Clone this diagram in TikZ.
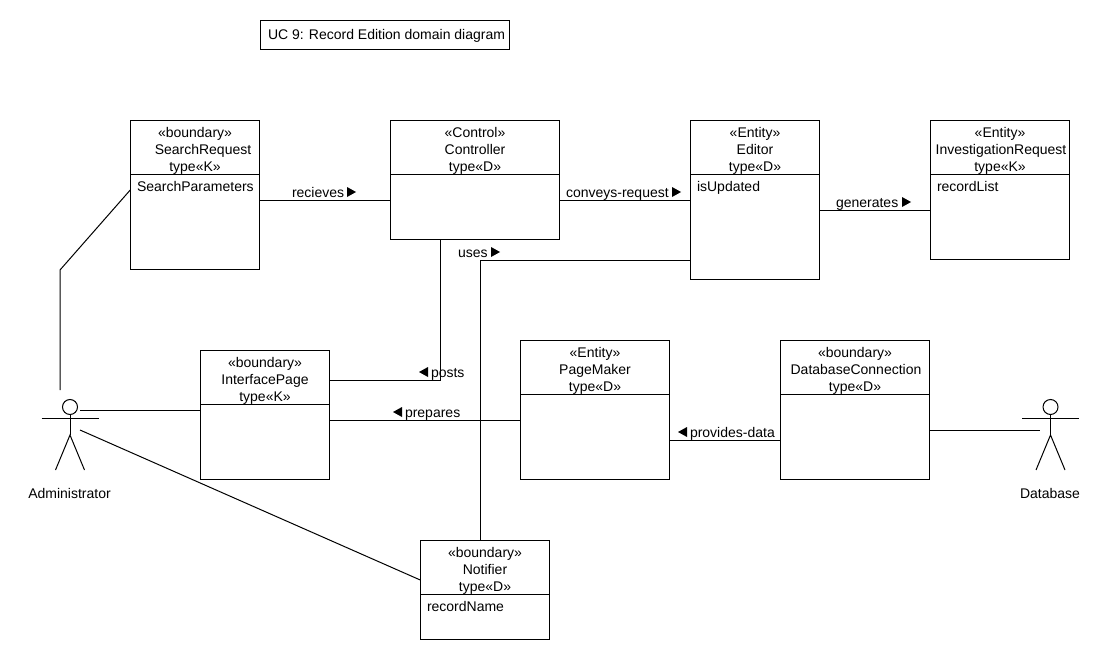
\documentclass[tikz,border=0pt]{standalone}
\usepackage{fontspec}
\setmainfont{Liberation Sans}
\usetikzlibrary{calc}
\tikzset{
  x=0.75pt,y=-0.75pt,
  umlbox/.style={draw=black,line width=0.75pt,fill=white,rectangle,inner sep=0pt,outer sep=0pt,anchor=north west},
  conn/.style={draw=black,line width=0.75pt},
  divider/.style={draw=black,line width=0.75pt},
  txt/.style={inner sep=0pt,outer sep=0pt,anchor=base,font=\fontsize{10.5}{12}\selectfont},
  ltxt/.style={txt,anchor=base west},
  tri/.style={fill=black,draw=none},
}
% box: name, x1, y1, w, h, divider offset
\newcommand{\umlclass}[6]{%
  \node[umlbox,minimum width=#4*0.75pt-0.5pt,minimum height=#5*0.75pt-0.5pt] (#1) at (#2+0.25,#3+0.25) {};
  \draw[divider] (#1.west |- 0,#3+#6) -- (#1.east |- 0,#3+#6);
}
% heading lines: name, centre x, top y, l1, l2, l3, x of l2
\newcommand{\umlhead}[7]{%
  \node[txt] (#1a) at (#2,#3+17) {#4};
  \node[txt] (#1b) at (#7,#3+34) {#5};
  \node[txt] (#1c) at (#2,#3+51) {#6};
}
\newcommand{\righttri}[2]{\fill[tri] (#1,#2-5) -- (#1+9,#2) -- (#1,#2+5) -- cycle;}
\newcommand{\lefttri}[2]{\fill[tri] (#1+9,#2-5) -- (#1,#2) -- (#1+9,#2+5) -- cycle;}
\newcommand{\stick}[2]{%
  \draw[conn] (#1,#2) circle (7.5);
  \draw[conn] (#1,#2+7.5) -- (#1,#2+28) (#1-28.5,#2+11) -- (#1+28.5,#2+11);
  \draw[conn] (#1-14.5,#2+63) -- (#1,#2+28) -- (#1+14.5,#2+63);
}
\begin{document}
\begin{tikzpicture}
\useasboundingbox (0,0) rectangle (1120,660);
\fill[white] (0,0) rectangle (1120,660);

\node[umlbox,minimum width=187pt,minimum height=22pt] (title) at (260.25,20.25) {};
\node[ltxt] (titletext) at (268,40) {UC 9: Record Edition domain diagram};

\umlclass{sr}{130}{120}{130}{150}{54}
\umlclass{ctrl}{390}{120}{170}{120}{54}
\umlclass{ed}{690}{120}{130}{160}{54}
\umlclass{ir}{930}{120}{140}{140}{54}
\umlclass{ip}{200}{350}{130}{130}{54}
\umlclass{pm}{520}{340}{150}{140}{54}
\umlclass{dc}{780}{340}{150}{140}{54}
\umlclass{nf}{420}{540}{130}{100}{54}

\umlhead{srh}{195}{120}{«boundary»}{SearchRequest}{type«K»}{203}
\umlhead{ctrlh}{475}{120}{«Control»}{Controller}{type«D»}{475}
\umlhead{edh}{755}{120}{«Entity»}{Editor}{type«D»}{755}
\umlhead{irh}{1000}{120}{«Entity»}{InvestigationRequest}{type«K»}{1001}
\umlhead{iph}{265}{350}{«boundary»}{InterfacePage}{type«K»}{265}
\umlhead{pmh}{595}{340}{«Entity»}{PageMaker}{type«D»}{595}
\umlhead{dch}{855}{340}{«boundary»}{DatabaseConnection}{type«D»}{856}
\umlhead{nfh}{485}{540}{«boundary»}{Notifier}{type«D»}{485}

\node[ltxt] (sra) at (137,191) {SearchParameters};
\node[ltxt] (eda) at (697,191) {isUpdated};
\node[ltxt] (ira) at (937,191) {recordList};
\node[ltxt] (nfa) at (427,611) {recordName};

% actors
\stick{70}{407}
\stick{1050.5}{407}
\node[txt] (adminlabel) at (69.5,498) {Administrator};
\node[txt] (dblabel) at (1050,498) {Database};
\coordinate (admintop) at (60,390);
\coordinate (adminr) at (80,410);
\coordinate (adminl) at (80,430);
\coordinate (dbl) at (1040,430);
\coordinate (b1) at (60,270);
\coordinate (b2) at (440,380);
\coordinate (b3) at (480,260);

% connectors
\draw[conn] (sr.west |- 0,190) -- (b1) -- (admintop);
\draw[conn] (sr.east |- 0,200) -- (ctrl.west |- 0,200);
\draw[conn] (ctrl.east |- 0,200) -- (ed.west |- 0,200);
\draw[conn] (ed.east |- 0,210) -- (ir.west |- 0,210);
\draw[conn] (ctrl.south -| b2) -- (b2) -- (ip.east |- b2);
\draw[conn] (ip.east |- 0,420) -- (pm.west |- 0,420);
\draw[conn] (pm.east |- 0,440) -- (dc.west |- 0,440);
\draw[conn] (dc.east |- dbl) -- (dbl);
\draw[conn] (ed.west |- b3) -- (b3) -- (nf.north -| b3);
\draw[conn] (adminr) -- (ip.west |- adminr);
\draw[conn] (adminl) -- (nf.west |- 0,580);

% association labels
\node[ltxt] (l1) at (292,197) {recieves};
\righttri{347}{192}
\node[ltxt] (l2) at (566,197) {conveys-request};
\righttri{672}{192}
\node[ltxt] (l3) at (836,207) {generates};
\righttri{902}{202}
\node[ltxt] (l4) at (458,257) {uses};
\righttri{491}{252}
\lefttri{419}{372}
\node[ltxt] (l5) at (431,377) {posts};
\lefttri{393}{412}
\node[ltxt] (l6) at (405,417) {prepares};
\lefttri{678}{432}
\node[ltxt] (l7) at (690,437) {provides-data};
\end{tikzpicture}
\end{document}
